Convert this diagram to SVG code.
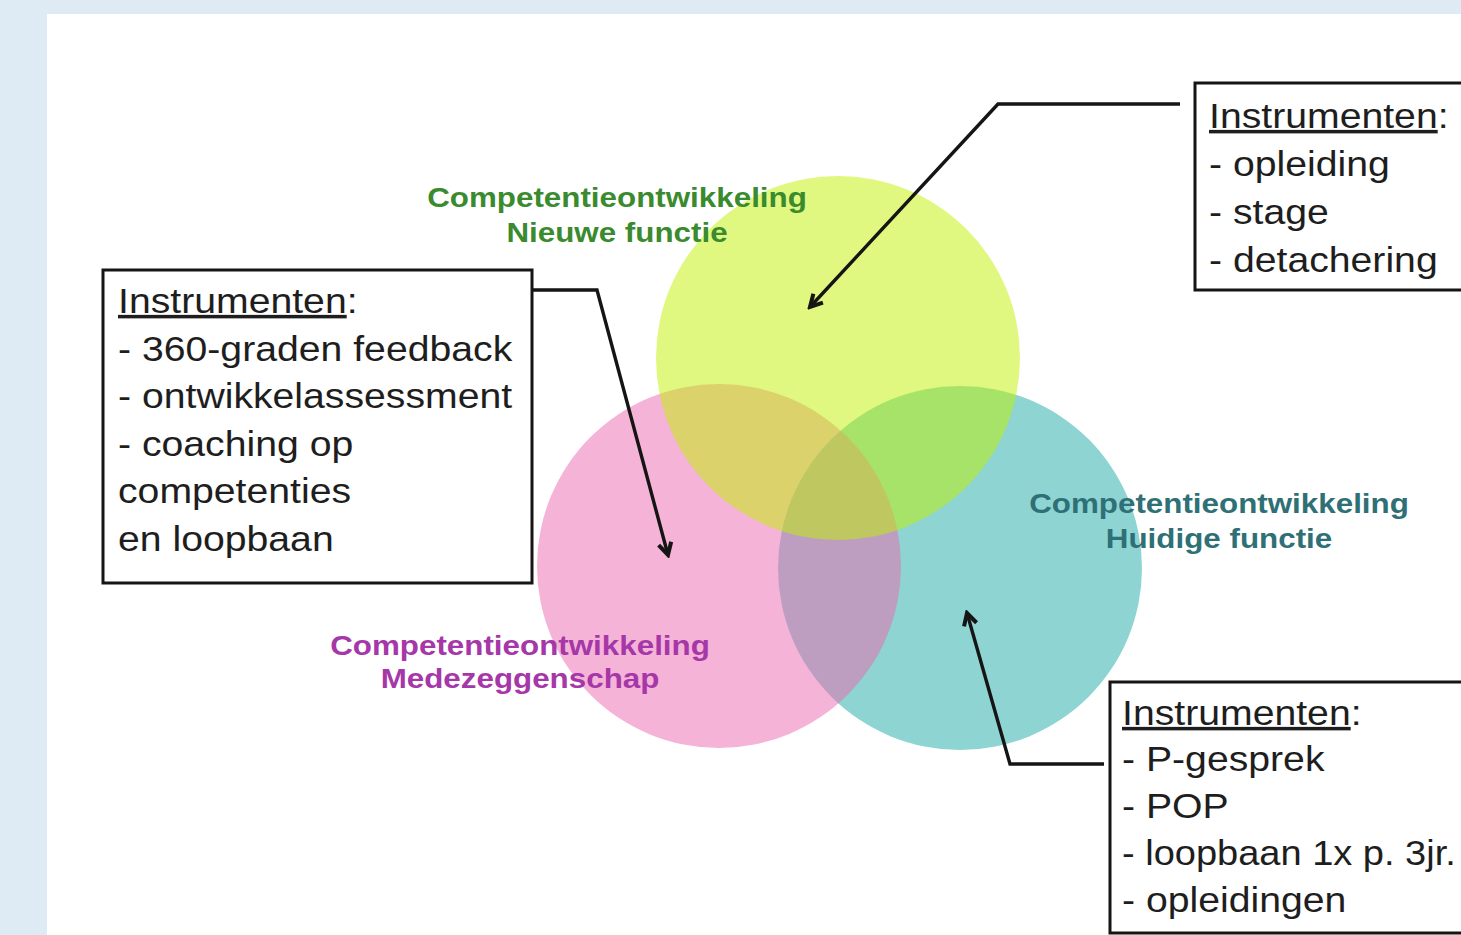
<svg xmlns="http://www.w3.org/2000/svg" width="1461" height="935" viewBox="0 0 1461 935">
<style>
.box{fill:#fff;stroke:#151515;stroke-width:3}
.bt{font-family:"Liberation Sans",Arial,sans-serif;font-size:35px;fill:#1e1e1e}
.lbl{font-family:"Liberation Sans",Arial,sans-serif;font-size:28px;font-weight:bold;text-anchor:middle}
.conn{fill:none;stroke:#151515;stroke-width:3.4;stroke-linejoin:miter}
</style>
<defs>
<marker id="ah" viewBox="0 0 18 18" refX="15" refY="9" markerWidth="18" markerHeight="18" markerUnits="userSpaceOnUse" orient="auto">
<path d="M3,2.5 L15,9 L3,15.5" fill="none" stroke="#151515" stroke-width="4"/>
</marker>
</defs>
<rect x="0" y="0" width="1461" height="935" fill="#deebf5"/>
<rect x="47" y="14" width="1414" height="921" fill="#ffffff"/>

<g id="circle-huidige">
<circle cx="960" cy="568" r="182" fill="#1da9a7" fill-opacity="0.5"/>
</g>
<g id="circle-medezeggenschap">
<circle cx="719" cy="566" r="182" fill="#eb67af" fill-opacity="0.5"/>
</g>
<g id="circle-nieuwe">
<circle cx="838" cy="358" r="182" fill="#c1f100" fill-opacity="0.5"/>
</g>

<g id="label-nieuwe" transform="translate(617,0) scale(1.12,1)">
<text class="lbl" fill="#3a8a2e" x="0" y="207">Competentieontwikkeling</text>
<text class="lbl" fill="#3a8a2e" x="0" y="242">Nieuwe functie</text>
</g>
<g id="label-huidige" transform="translate(1219,0) scale(1.12,1)">
<text class="lbl" fill="#2e7075" x="0" y="513">Competentieontwikkeling</text>
<text class="lbl" fill="#2e7075" x="0" y="548">Huidige functie</text>
</g>
<g id="label-medezeggenschap" transform="translate(520,0) scale(1.12,1)">
<text class="lbl" fill="#a637a8" x="0" y="655">Competentieontwikkeling</text>
<text class="lbl" fill="#a637a8" x="0" y="688">Medezeggenschap</text>
</g>

<g id="connectors">
<path class="conn" d="M1180,104 L998,104 L810,307" marker-end="url(#ah)"/>
<path class="conn" d="M532,290 L597,290 L668,555" marker-end="url(#ah)"/>
<path class="conn" d="M1104,764 L1010,764 L967,613" marker-end="url(#ah)"/>
</g>

<g id="box-nieuwe">
<rect class="box" x="1195" y="83" width="300" height="207"/>
<g transform="translate(1209,0) scale(1.12,1)">
<text class="bt" x="0" y="128"><tspan text-decoration="underline">Instrumenten</tspan>:</text>
<text class="bt" x="0" y="176">- opleiding</text>
<text class="bt" x="0" y="224">- stage</text>
<text class="bt" x="0" y="272">- detachering</text>
</g>
</g>

<g id="box-medezeggenschap">
<rect class="box" x="103" y="270" width="429" height="313"/>
<g transform="translate(118,0) scale(1.12,1)">
<text class="bt" x="0" y="313"><tspan text-decoration="underline">Instrumenten</tspan>:</text>
<text class="bt" x="0" y="361">- 360-graden feedback</text>
<text class="bt" x="0" y="408">- ontwikkelassessment</text>
<text class="bt" x="0" y="456">- coaching op</text>
<text class="bt" x="0" y="503">competenties</text>
<text class="bt" x="0" y="551">en loopbaan</text>
</g>
</g>

<g id="box-huidige">
<rect class="box" x="1110" y="682" width="400" height="251"/>
<g transform="translate(1122,0) scale(1.12,1)">
<text class="bt" x="0" y="725"><tspan text-decoration="underline">Instrumenten</tspan>:</text>
<text class="bt" x="0" y="771">- P-gesprek</text>
<text class="bt" x="0" y="818">- POP</text>
<text class="bt" x="0" y="865" textLength="298" lengthAdjust="spacingAndGlyphs">- loopbaan 1x p. 3jr.</text>
<text class="bt" x="0" y="912">- opleidingen</text>
</g>
</g>
</svg>
